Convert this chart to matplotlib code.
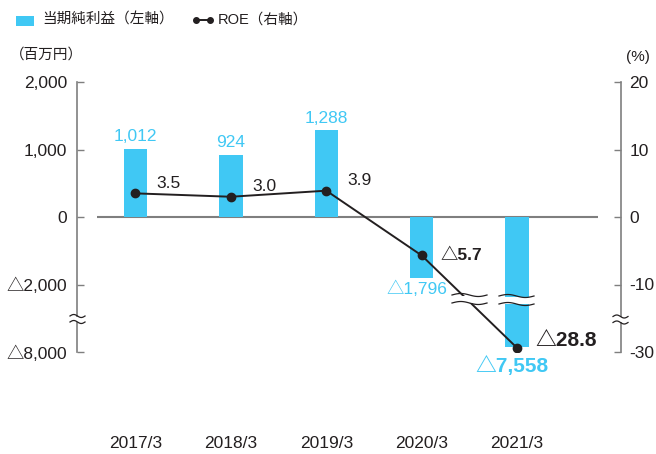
import numpy as np
import matplotlib
matplotlib.use('Agg')
import matplotlib.pyplot as plt
from matplotlib.lines import Line2D
from matplotlib.patches import Rectangle
from matplotlib.transforms import IdentityTransform, blended_transform_factory

plt.rcParams['font.family'] = ['Liberation Sans', 'Noto Sans CJK JP', 'DejaVu Sans']

# data
years = ['2017/3', '2018/3', '2019/3', '2020/3', '2021/3']
net_income = [1012, 924, 1288, -1796, -7558]
income_labels = ['1,012', '924', '1,288', '△1,796', '△7,558']
roe = [3.5, 3.0, 3.9, -5.7, -28.8]
roe_labels = ['3.5', '3.0', '3.9', '△5.7', '△28.8']
left_ticks = [2000, 1000, 0, -2000, -8000]
left_ticklabels = ['2,000', '1,000', '0', '△2,000', '△8,000']
right_ticks = [20, 10, 0, -10, -30]
right_ticklabels = ['20', '10', '0', '-10', '-30']

BLUE = '#40C8F4'
INK = '#231F20'
GREY = '#7f7f7f'
FS = 12.5
FS_BIG = 15

# broken axes: piecewise linear scales
L_VALS = [-14000, -8000, -2000, 0, 2000, 4000]
R_VALS = [-50, -30, -10, 0, 20, 40]
POS = [-3, -2, -1, 0, 2, 4]


def make_scale(vals):
    return (lambda v: np.interp(v, vals, POS), lambda p: np.interp(p, POS, vals))


W, H = 656, 454
fig = plt.figure(figsize=(W / 100, H / 100), dpi=100)
ax = fig.add_axes([77 / W, 1 - 352 / H, (621 - 77) / W, 270 / H])
ax2 = ax.twinx()

ax.set_yscale('function', functions=make_scale(L_VALS))
ax2.set_yscale('function', functions=make_scale(R_VALS))
ax.set_ylim(-8000, 2000)
ax2.set_ylim(-30, 20)
ax.set_xlim(-0.613, 5.089)

x = np.arange(len(years))
ax.bar(x, net_income, width=0.246, color=BLUE, zorder=2)
ax.hlines(0, -0.404, 4.848, color=GREY, lw=1.5, zorder=1)

ax2.plot(x, roe, color=INK, lw=1.4, marker='o', ms=6, zorder=3)

for a in (ax, ax2):
    for s in ('top', 'bottom'):
        a.spines[s].set_visible(False)
    a.set_xticks([])
ax.spines['right'].set_visible(False)
ax2.spines['left'].set_visible(False)
ax.spines['left'].set_color(GREY)
ax2.spines['right'].set_color(GREY)
ax.spines['left'].set_linewidth(1.2)
ax2.spines['right'].set_linewidth(1.2)

ax.set_yticks(left_ticks)
ax.set_yticklabels(left_ticklabels)
ax.tick_params(axis='y', direction='in', length=5, width=1, color=GREY,
               labelsize=FS, labelcolor=INK, pad=7)
ax2.set_yticks(right_ticks)
ax2.set_yticklabels(right_ticklabels)
ax2.tick_params(axis='y', direction='in', length=5, width=1, color=GREY,
                labelsize=FS, labelcolor=INK, pad=6)
ax.minorticks_off()
ax2.minorticks_off()

# category labels
tr = blended_transform_factory(ax.transData, fig.transFigure)
for xi, yr in zip(x, years):
    ax.text(xi, 1 - 443 / H, yr, transform=tr, ha='center', va='center',
            fontsize=FS, color=INK)

# bar value labels
for i, (v, lab) in enumerate(zip(net_income, income_labels)):
    if v >= 0:
        ax.annotate(lab, (x[i], v), xytext=(0, 12), textcoords='offset pixels',
                    ha='center', va='center', fontsize=FS, color=BLUE)
    elif i == 3:
        ax.annotate(lab, (x[i] - 0.05, v), xytext=(0, -11), textcoords='offset pixels',
                    ha='center', va='center', fontsize=FS, color=BLUE)
    else:
        ax.annotate(lab, (x[i] - 0.05, v), xytext=(0, -19), textcoords='offset pixels',
                    ha='center', va='center', fontsize=FS_BIG, color=BLUE, fontweight='bold')

# ROE labels
for i, lab in enumerate(roe_labels):
    if i < 3:
        ax2.annotate(lab, (x[i], roe[i]), xytext=(21, 10), textcoords='offset pixels',
                     ha='left', va='center', fontsize=FS, color=INK)
    elif i == 3:
        ax2.annotate(lab, (x[i], roe[i]), xytext=(19, 0), textcoords='offset pixels',
                     ha='left', va='center', fontsize=FS, color=INK, fontweight='bold')
    else:
        ax2.annotate(lab, (x[i], roe[i]), xytext=(18, 7), textcoords='offset pixels',
                     ha='left', va='center', fontsize=FS_BIG, color=INK, fontweight='bold')


# break marks (pixel coords, image y from top)
def gap(x0, x1, y0, y1):
    fig.add_artist(Rectangle((x0, H - y1), x1 - x0, y1 - y0, facecolor='white',
                             edgecolor='none', transform=IdentityTransform(), zorder=5))


def wave(x0, x1, y):
    xs = np.linspace(x0, x1, 40)
    ys = H - y + 1.5 * np.sin(2 * np.pi * (xs - x0) / (x1 - x0))
    fig.add_artist(Line2D(xs, ys, color=INK, lw=0.9, transform=IdentityTransform(), zorder=6))


for (x0, x1, ya, yb) in [(70, 85, 316, 322), (613, 628, 316.5, 322.5),
                         (452, 487, 295, 303), (499, 534, 296, 304)]:
    gap(x0 + 2, x1 - 2, ya + 0.5, yb - 0.5)
    wave(x0, x1, ya)
    wave(x0, x1, yb)

# legend
fig.add_artist(Rectangle((16, H - 26), 18, 10, facecolor=BLUE, edgecolor='none',
                         transform=IdentityTransform()))
fig.text(42 / W, 1 - 20 / H, '当期純利益（左軸）', ha='left', va='center', fontsize=10.5, color=INK)
fig.add_artist(Line2D([196, 210], [H - 20, H - 20], color=INK, lw=1.4, marker='o', ms=4,
                      transform=IdentityTransform()))
fig.text(218 / W, 1 - 20 / H, 'ROE（右軸）', ha='left', va='center', fontsize=10.5, color=INK)

fig.text(10 / W, 1 - 55 / H, '（百万円）', ha='left', va='center', fontsize=10.5, color=INK)
fig.text(626 / W, 1 - 57 / H, '(%)', ha='left', va='center', fontsize=11, color=INK)

fig.savefig('out.png', dpi=100, facecolor='white')
